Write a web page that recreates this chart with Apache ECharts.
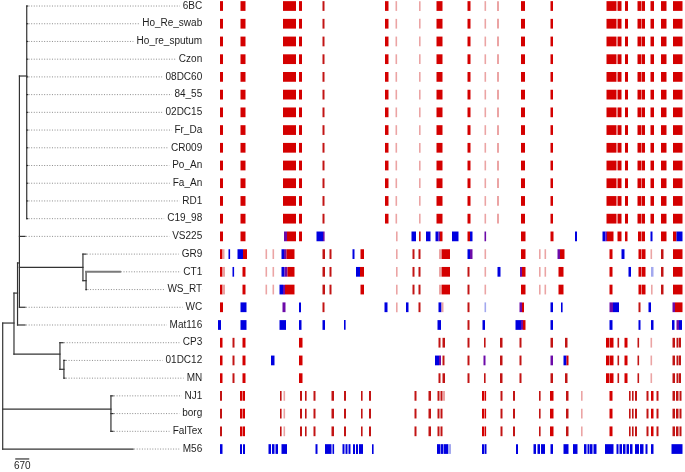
<!DOCTYPE html>
<html><head><meta charset="utf-8">
<script src="https://cdn.jsdelivr.net/npm/echarts@6/dist/echarts.min.js"></script>
<style>html,body{margin:0;padding:0;background:#fff}#c{width:685px;height:472px}</style>
</head><body><div id="c"></div><script>
// ---------- taxa (top to bottom) ----------
const taxa = ['6BC','Ho_Re_swab','Ho_re_sputum','Czon','08DC60','84_55','02DC15','Fr_Da','CR009','Po_An','Fa_An','RD1','C19_98','VS225','GR9','CT1','WS_RT','WC','Mat116','CP3','01DC12','MN','NJ1','borg','FalTex','M56'];

// ---------- tree: internal nodes [id, parent, distance, row] ----------
const treeNodes = [
  ['root', null, 0, 17.89],
  ['A', 'root', 540, 17.89],
  ['B', 'A', 710, 16.2],
  ['C', 'B', 800, 14.5],
  ['T', 'C', 1150, 3.95],
  ['GR', 'C', 3840, 14.75],
  ['GRs', 'GR', 3990, 15.5],
  ['CP', 'A', 2740, 19.64],
  ['CPs', 'CP', 2930, 20.5],
  ['NJ', 'root', 5180, 22.75]
];
// leaf parent and tip distance per taxon
const leafParent = ['T','T','T','T','T','T','T','T','T','T','T','T','T','C','GR','GRs','GRs','C','B','CP','CPs','CPs','NJ','NJ','NJ','root'];
const leafDist = [1190,1190,1190,1190,1190,1190,1190,1190,1190,1190,1190,1190,1190,1070,3990,5610,4010,1070,1070,2890,2980,2980,5280,5280,5280,6240];
const scaleBarLength = 670;
const scaleBarLabel = '670';

// ---------- alignment blocks: [start, end, type] ----------
// R red, r thin red, p pale red, B blue, b pale blue, M mixed
const coreBlocks = [[2,5,'R'],[22.5,27.5,'R'],[65,78,'R'],[81,84,'R'],[104.5,106.5,'r'],[167,170.5,'R'],[177.5,179,'p'],[201,202.5,'p'],[218.5,224.5,'R'],[249.5,252.5,'R'],[266.5,268,'p'],[279,281,'p'],[303,307,'R'],[332.5,335,'R'],[388.5,398.5,'R'],[399.5,403.5,'R'],[407,410,'R'],[419.5,423,'R'],[423.5,427,'R'],[432.5,436,'R'],[443,448.5,'R'],[455,464.5,'R']];
const vs225Blocks = [[2,5,'R'],[22.5,27.5,'R'],[66,69,'M'],[69,78,'R'],[81,84,'R'],[98.5,105,'B'],[105,106.5,'M'],[178,179.5,'p'],[193.5,198,'B'],[201,202.5,'r'],[208,212.5,'B'],[217.5,220.5,'B'],[220.5,222,'M'],[222,224.5,'R'],[234,240.5,'B'],[249.5,252,'R'],[252,254.5,'B'],[266.5,268,'M'],[303,307.5,'R'],[332.5,335.5,'R'],[357,359,'B'],[384.5,387.5,'B'],[387.5,389,'M'],[389,395.5,'R'],[399.5,403.5,'R'],[407,409.5,'R'],[420,423,'R'],[423.5,427,'R'],[432.5,434.5,'B'],[443,448.5,'R'],[455,458.5,'R'],[458.5,464.5,'B']];
const gr9Blocks = [[2,4.5,'R'],[4.5,6.5,'p'],[10.5,12,'B'],[19.5,25,'B'],[25,29,'R'],[47.5,49,'p'],[54.5,56,'p'],[63.5,66,'B'],[66,68.5,'M'],[68.5,76.5,'R'],[104.5,107,'r'],[111.5,113.5,'r'],[134.5,136.5,'B'],[142.5,146,'R'],[178,179.5,'p'],[194.5,196.5,'r'],[200.5,202.5,'r'],[221,223,'p'],[223.5,232,'R'],[249.5,252,'B'],[252,254.5,'M'],[266.5,268,'p'],[303,307.5,'R'],[321,322.5,'p'],[326.5,328,'p'],[339.5,342,'M'],[342,346.5,'R'],[391.5,394.5,'R'],[403.5,406.5,'B'],[420.5,423.5,'R'],[424,427.5,'R'],[432.5,434,'p'],[443,445.5,'r'],[455,464.5,'R']];
const ct1Blocks = [[2,4.5,'R'],[4.5,7,'p'],[14.5,16,'B'],[24.5,27.5,'R'],[47.5,49,'p'],[54.5,56,'p'],[63.5,66.5,'B'],[66.5,69.5,'M'],[69.5,76.5,'R'],[104.5,107,'r'],[111.5,113.5,'r'],[138,142,'B'],[142,146,'R'],[178,179.5,'p'],[194.5,196.5,'r'],[200.5,202.5,'r'],[221,223,'p'],[223.5,232,'R'],[249.5,251.5,'r'],[266.5,268,'p'],[279.5,282.5,'B'],[302,304,'M'],[304,307.5,'R'],[321,322.5,'p'],[326.5,328,'p'],[340.5,345.5,'R'],[391.5,394.5,'R'],[410.5,413,'B'],[420.5,423.5,'R'],[424,427.5,'R'],[433,435.5,'b'],[443,445.5,'r'],[455,464.5,'R']];
const wsrtBlocks = [[2,4.5,'R'],[4.5,7,'p'],[24.5,27.5,'R'],[47.5,49,'p'],[54.5,56,'p'],[61.5,65,'B'],[65,67,'M'],[67,76.5,'R'],[104.5,107,'r'],[111.5,113.5,'r'],[142.5,146,'R'],[178,179.5,'p'],[194.5,196.5,'r'],[200.5,202.5,'r'],[221,223,'p'],[223.5,232,'R'],[249.5,251.5,'r'],[266.5,268,'p'],[303,307.5,'R'],[321,322.5,'p'],[326.5,328,'p'],[340.5,345.5,'R'],[391.5,394.5,'R'],[420.5,423.5,'R'],[424,427.5,'R'],[433,434.5,'p'],[443,445.5,'r'],[455,464.5,'R']];
const wcBlocks = [[2,5,'R'],[22.5,28.5,'B'],[64.5,67.5,'M'],[81,83,'B'],[104.5,106.5,'r'],[166.5,169.5,'B'],[178,179.5,'p'],[188,190.5,'B'],[200.5,202.5,'r'],[220.5,223.5,'B'],[223.5,225.5,'p'],[249.5,251.5,'r'],[266.5,268,'b'],[301.5,304,'M'],[304,306,'R'],[332.5,335,'B'],[343,344.5,'B'],[391.5,395,'M'],[395,401,'B'],[420.5,422.5,'r'],[430.5,433,'B'],[454.5,457,'M'],[457,464.5,'R']];
const mat116Blocks = [[0,3,'B'],[22.5,28.5,'B'],[61.5,68,'B'],[81,83.5,'B'],[104.5,107,'B'],[126,127.5,'B'],[219.5,223,'B'],[249.5,251.5,'r'],[264.5,267,'B'],[297.5,303,'B'],[303,305,'M'],[305,307.5,'R'],[332.5,335,'B'],[391.5,394.5,'B'],[420.5,422.5,'B'],[433,435.5,'B'],[454,456.5,'B'],[458.5,461,'M'],[461,464,'B']];
const cp3Blocks = [[2,4.5,'R'],[14.5,16.5,'r'],[24.5,27.5,'R'],[81,84.5,'R'],[220.5,222.5,'r'],[224.5,227,'r'],[249.5,251.5,'r'],[266,267.5,'r'],[282,284.5,'r'],[301.5,303.5,'r'],[332.5,335,'r'],[347,349.5,'r'],[388,391.5,'R'],[392,395.5,'R'],[399.5,401,'r'],[406.5,409.5,'R'],[419.5,421,'r'],[432.5,434,'p'],[454.5,457,'r'],[458.5,460.5,'r'],[461,463,'r']];
const dc12Blocks = [[2,4.5,'R'],[14.5,16.5,'r'],[24.5,27.5,'R'],[53,56.5,'B'],[81,84.5,'R'],[217,221,'B'],[221,223,'M'],[224.5,226.5,'r'],[249.5,251.5,'r'],[265.5,267.5,'M'],[282,284.5,'r'],[301.5,303.5,'r'],[332.5,335,'M'],[345.5,348.5,'B'],[348.5,350.5,'R'],[388,391.5,'R'],[392,395.5,'R'],[399.5,401,'r'],[406.5,409.5,'R'],[419.5,421,'r'],[432.5,434,'p'],[454.5,457,'r'],[458.5,460.5,'r'],[461,463,'r']];
const mnBlocks = [[2,4.5,'R'],[14.5,16.5,'r'],[24.5,27.5,'R'],[81,84.5,'R'],[220.5,222.5,'r'],[224.5,227,'r'],[249.5,251.5,'r'],[266,267.5,'r'],[282,284.5,'r'],[301.5,303.5,'r'],[332.5,335,'r'],[347,349.5,'r'],[388,391.5,'R'],[392,395.5,'R'],[399.5,401,'r'],[406.5,409.5,'R'],[419.5,421,'r'],[432.5,434,'p'],[454.5,457,'r'],[458.5,460.5,'r'],[461,463,'r']];
const nj1Blocks = [[2,4,'r'],[22,24,'R'],[24.5,27,'R'],[62,63.5,'r'],[65.5,67,'p'],[82,84,'r'],[87,88.5,'r'],[95.5,97.5,'r'],[113.5,116,'r'],[126,128,'r'],[143,144.5,'r'],[151,153,'r'],[196.5,198.5,'r'],[210.5,213,'r'],[219.5,221.5,'r'],[222.5,224.5,'r'],[225,227,'p'],[264,266,'R'],[266.5,268,'R'],[282.5,284.5,'r'],[295,297,'r'],[321,322.5,'r'],[332,335.5,'R'],[348,350.5,'r'],[363,364.5,'p'],[391.5,394.5,'R'],[411,412.5,'r'],[414,415.5,'r'],[417,419,'r'],[428.5,430.5,'r'],[433,435.5,'R'],[438.5,440.5,'r'],[454.5,457,'r'],[458,460.5,'r'],[461.5,463.5,'r']];
const borgBlocks = [[2,4,'r'],[22,24,'R'],[24.5,27,'R'],[62,63.5,'r'],[65.5,67,'p'],[82,84,'r'],[87,88.5,'r'],[95.5,97.5,'r'],[113.5,116,'r'],[126,128,'r'],[143,144.5,'r'],[151,153,'r'],[196.5,198.5,'r'],[210.5,213,'r'],[219.5,221.5,'r'],[222.5,224.5,'r'],[264,266,'R'],[266.5,268,'R'],[282.5,284.5,'r'],[295,297,'r'],[321,322.5,'r'],[332,335.5,'R'],[348,350.5,'r'],[363,364.5,'p'],[391.5,394.5,'R'],[411,412.5,'r'],[414,415.5,'r'],[417,419,'r'],[428.5,430.5,'r'],[433,435.5,'R'],[438.5,440.5,'r'],[454.5,457,'r'],[458,460.5,'r'],[461.5,463.5,'r']];
const faltexBlocks = [[2,4,'r'],[22,24,'R'],[24.5,27,'R'],[62,63.5,'r'],[65.5,67,'p'],[82,84,'r'],[87,88.5,'r'],[95.5,97.5,'r'],[113.5,116,'r'],[126,128,'r'],[143,144.5,'r'],[151,153,'r'],[196.5,198.5,'r'],[210.5,213,'r'],[219.5,221.5,'r'],[222.5,224.5,'r'],[264,266,'R'],[266.5,268,'R'],[282.5,284.5,'r'],[295,297,'r'],[321,322.5,'r'],[332,335.5,'R'],[348,350.5,'r'],[363,364.5,'p'],[391.5,394.5,'R'],[411,412.5,'r'],[414,415.5,'r'],[417,419,'r'],[428.5,430.5,'r'],[433,435.5,'R'],[438.5,440.5,'r'],[454.5,457,'r'],[458,460.5,'r'],[461.5,463.5,'r']];
const m56Blocks = [[2,4.5,'B'],[22,24,'B'],[25,27,'B'],[50.5,53,'B'],[54,56.5,'B'],[57.5,60,'B'],[63.5,69,'B'],[97.5,99.5,'B'],[107,113.5,'B'],[114.5,116,'B'],[124.5,126.5,'B'],[127.5,129.5,'B'],[130.5,132.5,'B'],[135,137,'B'],[138,140,'B'],[141,145,'B'],[154,155.5,'B'],[219,222,'B'],[222.5,225,'B'],[225.5,230,'B'],[230,233,'b'],[264,266,'B'],[266.5,268.5,'B'],[298,300,'B'],[315.5,318,'B'],[319.5,322,'B'],[323,327,'B'],[332.5,335,'B'],[345.5,350.5,'B'],[355,359.5,'B'],[366,368.5,'B'],[369.5,371.5,'B'],[372,374.5,'B'],[375.5,378.5,'B'],[387,395.5,'B'],[398.5,400.5,'B'],[401.5,404,'B'],[405,407.5,'B'],[408.5,411,'B'],[412,414.5,'B'],[417,421,'B'],[422,425.5,'B'],[427.5,429.5,'B'],[433,435.5,'B'],[453.5,464.5,'B']];
const alignmentLength = 467;

// ---------- build ----------
const rowBlocks = [];
for (let i = 0; i < 13; i++) rowBlocks.push(coreBlocks);
rowBlocks.push(vs225Blocks, gr9Blocks, ct1Blocks, wsrtBlocks, wcBlocks, mat116Blocks, cp3Blocks, dc12Blocks, mnBlocks, nj1Blocks, borgBlocks, faltexBlocks, m56Blocks);

const typeKeys = ['R','r','p','B','b','M'];
const typeColors = ['#d40000','#c21414','#eba4a4','#0000e0','#a3a8ee','#6c0aa8'];
const barData = [];
rowBlocks.forEach((blocks, row) => blocks.forEach(b => barData.push([b[0], b[1], row, typeKeys.indexOf(b[2])])));

const nodeMap = {};
treeNodes.forEach(n => { nodeMap[n[0]] = {dist: n[2], row: n[3], childRows: []}; });
treeNodes.forEach(n => { if (n[1]) nodeMap[n[1]].childRows.push(n[3]); });
taxa.forEach((t, i) => nodeMap[leafParent[i]].childRows.push(i));
const treeEdges = [];
treeNodes.forEach(n => {
  if (n[1]) treeEdges.push([nodeMap[n[1]].dist, n[3], n[2], n[3], 0]);
  const rows = nodeMap[n[0]].childRows;
  treeEdges.push([n[2], Math.min(...rows), n[2], Math.max(...rows), 0]);
});
taxa.forEach((t, i) => {
  const p = nodeMap[leafParent[i]];
  treeEdges.push([p.dist, i, leafDist[i], i, t === 'CT1' ? 1 : 0]);
});
const leafData = taxa.map((t, i) => [leafDist[i], i]);

const TREE_MAX = 9571;
const ROW_MIN = -0.3, ROW_MAX = 26.2;
const FONT = '"Liberation Sans", Arial, sans-serif';

const chart = echarts.init(document.getElementById('c'), null, {renderer: 'canvas'});
chart.setOption({
  animation: false,
  backgroundColor: '#fff',
  grid: [
    {left: 2.7, top: 0.7, width: 200, height: 469.6},
    {left: 218, top: 0.7, width: 467, height: 469.6}
  ],
  xAxis: [
    {type: 'value', gridIndex: 0, min: 0, max: TREE_MAX, show: false},
    {type: 'value', gridIndex: 1, min: 0, max: alignmentLength, show: false}
  ],
  yAxis: [
    {type: 'value', gridIndex: 0, min: ROW_MIN, max: ROW_MAX, inverse: true, show: false},
    {type: 'value', gridIndex: 1, min: ROW_MIN, max: ROW_MAX, inverse: true, show: false}
  ],
  series: [
    { // dotted leaders + labels
      type: 'custom', xAxisIndex: 0, yAxisIndex: 0, data: leafData, clip: false,
      encode: {x: 0, y: 1},
      renderItem: (params, api) => {
        const p = api.coord([api.value(0), api.value(1)]);
        const right = params.coordSys.x + params.coordSys.width - 0.5;
        return {type: 'group', children: [
          {type: 'line', shape: {x1: p[0] + 1, y1: p[1], x2: right, y2: p[1]},
           style: {stroke: '#8c8c8c', lineWidth: 1, lineDash: [1, 1.6]}},
          {type: 'text', x: right, y: p[1],
           style: {text: taxa[params.dataIndex], align: 'right', verticalAlign: 'middle',
                   font: '10px ' + FONT, fill: '#1e1e1e', backgroundColor: '#fff', padding: [1, 0, 1, 3]}}
        ]};
      }
    },
    { // tree branches
      type: 'custom', xAxisIndex: 0, yAxisIndex: 0, data: treeEdges, clip: false,
      encode: {x: [0, 2], y: [1, 3]},
      renderItem: (params, api) => {
        const a = api.coord([api.value(0), api.value(1)]);
        const b = api.coord([api.value(2), api.value(3)]);
        const grey = api.value(4) === 1;
        return {type: 'line', shape: {x1: a[0], y1: a[1], x2: b[0], y2: b[1]},
                style: {stroke: grey ? '#7a7a7a' : '#333', lineWidth: grey ? 2 : 1.2, lineCap: 'square'}};
      }
    },
    { // scale bar
      type: 'custom', xAxisIndex: 0, yAxisIndex: 0, clip: false,
      data: [[600, 600 + scaleBarLength, 25.56]],
      encode: {x: [0, 1], y: 2},
      renderItem: (params, api) => {
        const a = api.coord([api.value(0), api.value(2)]);
        const b = api.coord([api.value(1), api.value(2)]);
        return {type: 'group', children: [
          {type: 'line', shape: {x1: a[0], y1: a[1], x2: b[0], y2: b[1]}, style: {stroke: '#333', lineWidth: 1.2}},
          {type: 'text', x: (a[0] + b[0]) / 2, y: a[1] + 2,
           style: {text: scaleBarLabel, align: 'center', verticalAlign: 'top', font: '10px ' + FONT, fill: '#1e1e1e'}}
        ]};
      }
    },
    { // alignment blocks
      type: 'custom', xAxisIndex: 1, yAxisIndex: 1, data: barData, clip: false,
      encode: {x: [0, 1], y: 2},
      renderItem: (params, api) => {
        const s = api.coord([api.value(0), api.value(2)]);
        const e = api.coord([api.value(1), api.value(2)]);
        const h = api.size([0, 0.55])[1];
        const w = Math.max(e[0] - s[0], 1.6);
        return {type: 'rect', shape: {x: s[0], y: s[1] - h / 2, width: w, height: h},
                style: {fill: typeColors[api.value(3)]}};
      }
    }
  ]
});
</script></body></html>
